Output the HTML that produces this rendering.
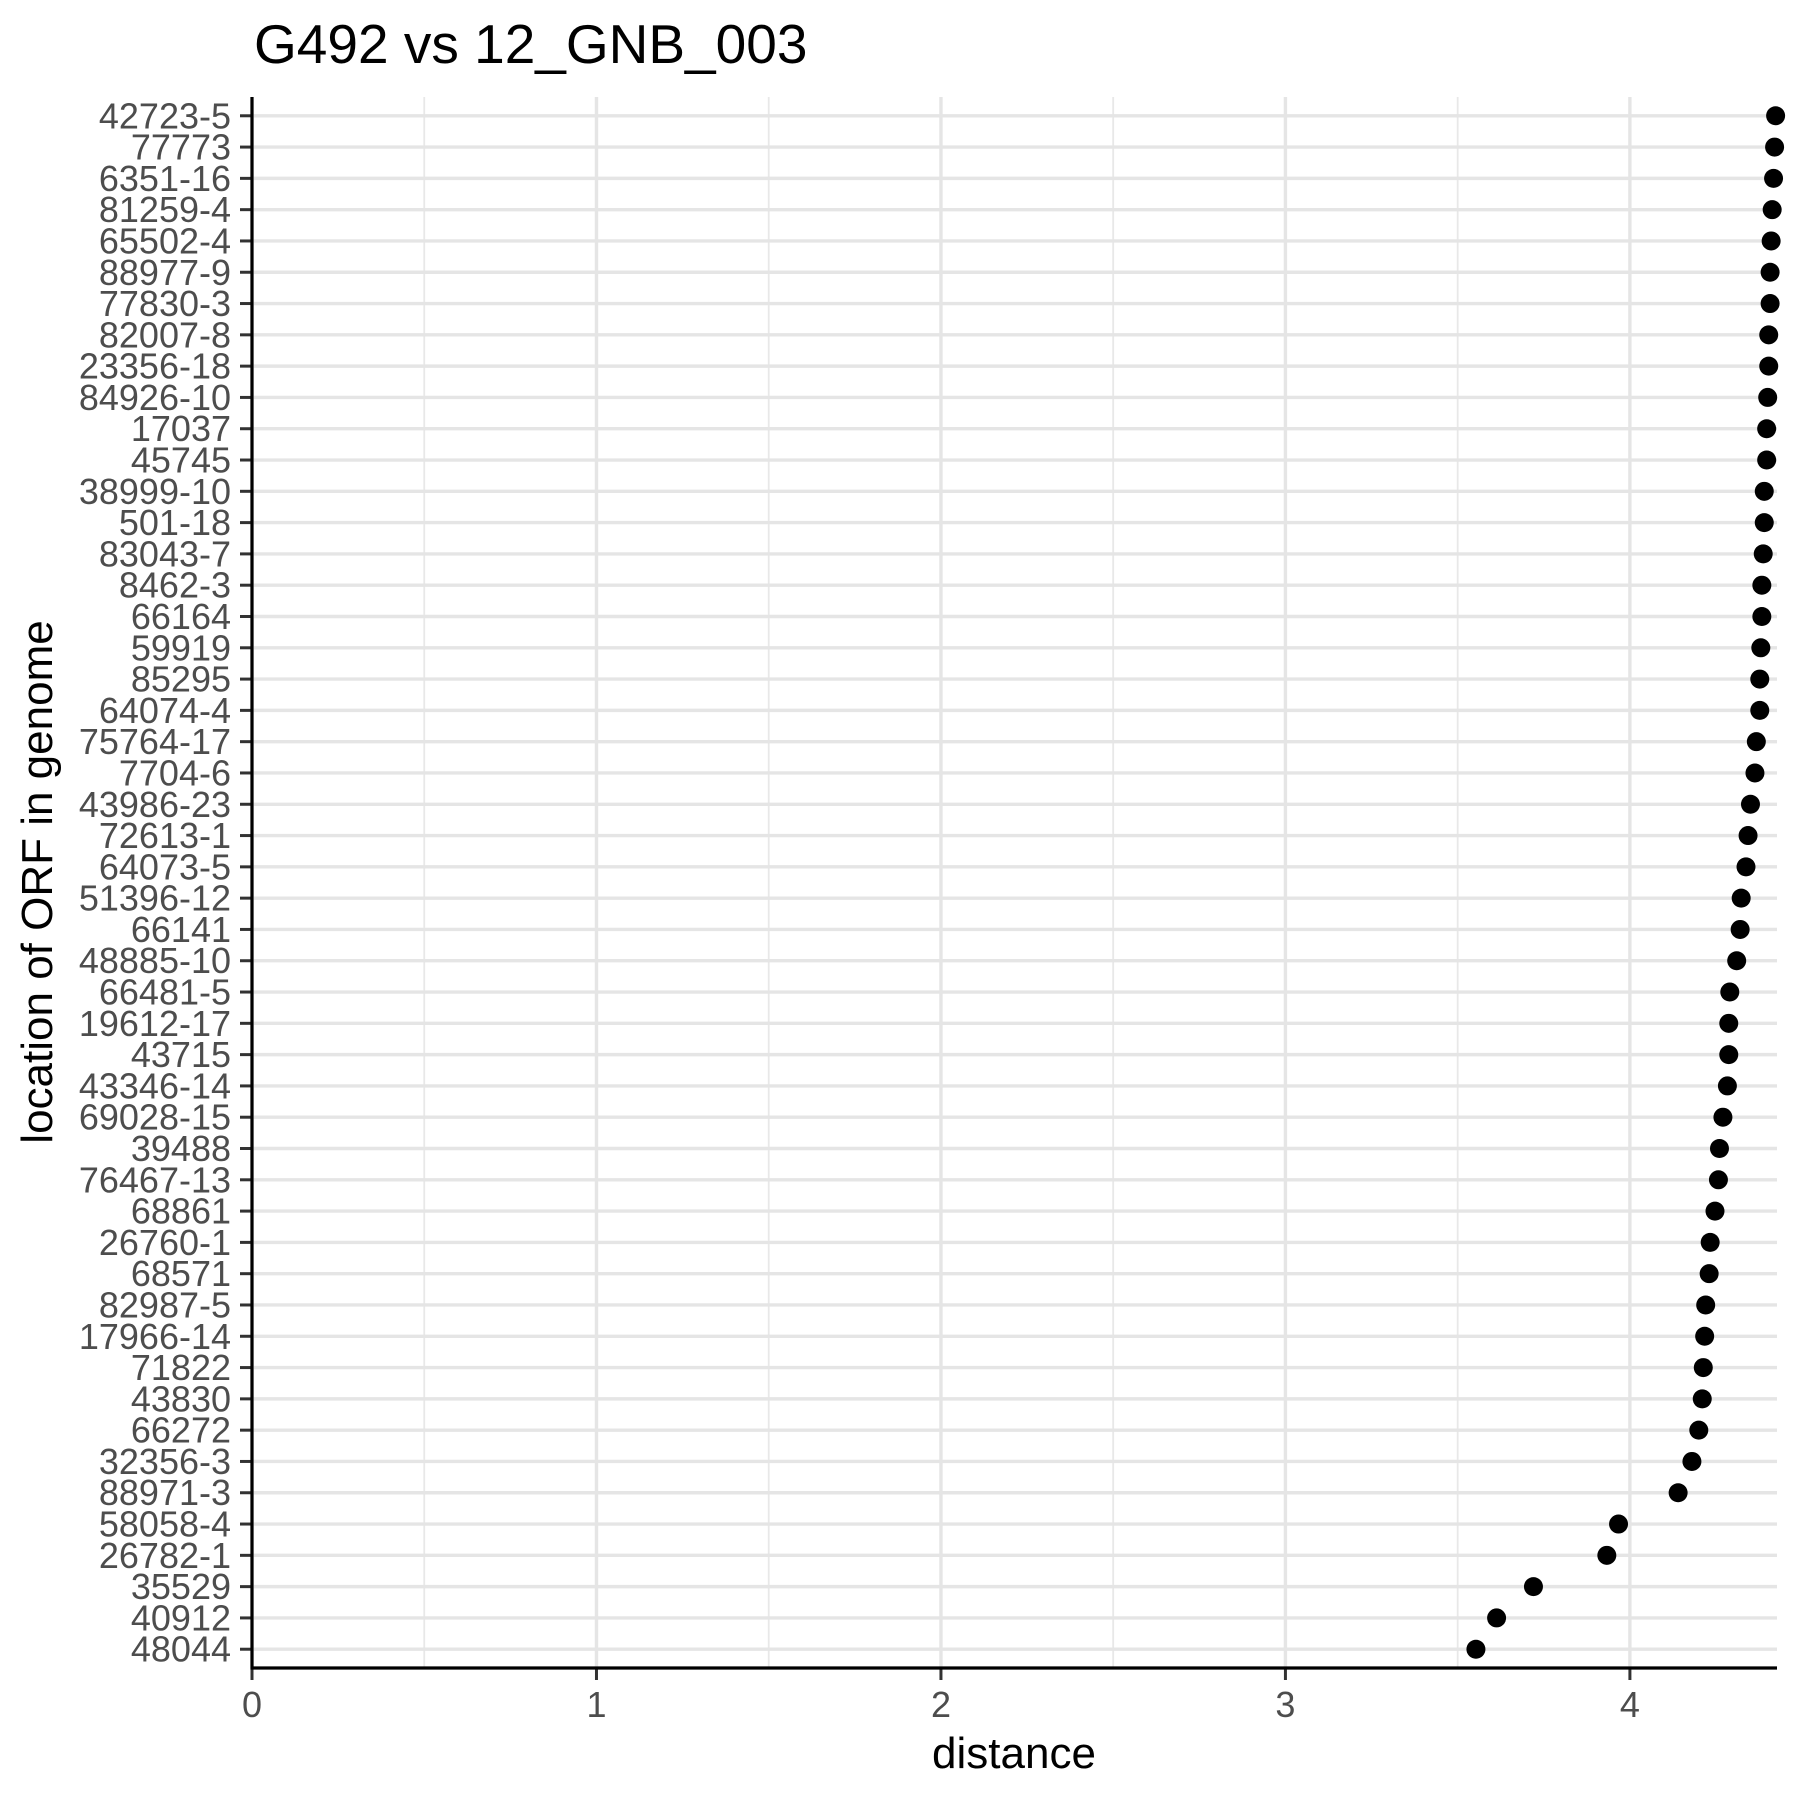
<!DOCTYPE html>
<html><head><meta charset="utf-8"><style>html,body{margin:0;padding:0;background:#fff}svg{display:block}text{font-family:"Liberation Sans",Arial,sans-serif}</style></head>
<body>
<svg id="chart" width="1800" height="1800" viewBox="0 0 1800 1800" xmlns="http://www.w3.org/2000/svg">
<text x="254" y="63" font-size="55" fill="#000">G492 vs 12_GNB_003</text>
<g id="grid"></g><g id="axes"></g><g id="points"></g>
<text x="1014" y="1768" font-size="44" text-anchor="middle" fill="#000">distance</text>
<text transform="translate(52,882) rotate(-90)" font-size="44" text-anchor="middle" fill="#000">location of ORF in genome</text>
</svg>
<script>
const categories = ["42723-5","77773","6351-16","81259-4","65502-4","88977-9","77830-3","82007-8","23356-18","84926-10","17037","45745","38999-10","501-18","83043-7","8462-3","66164","59919","85295","64074-4","75764-17","7704-6","43986-23","72613-1","64073-5","51396-12","66141","48885-10","66481-5","19612-17","43715","43346-14","69028-15","39488","76467-13","68861","26760-1","68571","82987-5","17966-14","71822","43830","66272","32356-3","88971-3","58058-4","26782-1","35529","40912","48044"];
const distances = [4.423,4.42,4.417,4.413,4.41,4.407,4.407,4.403,4.403,4.40,4.397,4.397,4.39,4.39,4.387,4.383,4.383,4.38,4.377,4.377,4.367,4.363,4.35,4.343,4.337,4.323,4.32,4.31,4.29,4.287,4.287,4.283,4.27,4.26,4.257,4.247,4.233,4.23,4.22,4.217,4.213,4.21,4.2,4.18,4.14,3.967,3.933,3.72,3.613,3.553];
const xTicks = [0,1,2,3,4];
const xMinor = [0.5,1.5,2.5,3.5];
const NS="http://www.w3.org/2000/svg";
const L=252,R=1777,T=97,B=1668;
const xMax=4.427;
const x=v=>L+(R-L)*v/xMax;
const step=(B-T)/(categories.length-1+1.2);
const y=i=>T+step*(0.6+i);
function mk(tag,attrs,parent){const e=document.createElementNS(NS,tag);for(const k in attrs)e.setAttribute(k,attrs[k]);parent.appendChild(e);return e;}
const grid=document.getElementById('grid'),axes=document.getElementById('axes'),pts=document.getElementById('points');
xMinor.forEach(v=>{const e=mk('line',{x1:x(v),x2:x(v),y1:T,y2:B,stroke:'#e8e8e8','stroke-width':1.8},grid);

});
xTicks.forEach(v=>{const e=mk('line',{x1:x(v),x2:x(v),y1:T,y2:B,stroke:'#e5e5e5','stroke-width':3.4},grid);

});
categories.forEach((c,i)=>{const e=mk('line',{x1:L,x2:R,y1:y(i),y2:y(i),stroke:'#e5e5e5','stroke-width':3.4},grid);


const t=mk('line',{x1:L-12,x2:L,y1:y(i),y2:y(i),stroke:'#333','stroke-width':3},axes);


const lb=mk('text',{x:L-21,y:y(i)+12.5,'font-size':36,'text-anchor':'end',fill:'#4d4d4d'},axes);lb.textContent=c;

});
xTicks.forEach(v=>{const t=mk('line',{x1:x(v),x2:x(v),y1:B,y2:B+12,stroke:'#333','stroke-width':3},axes);


const lb=mk('text',{x:x(v),y:1717,'font-size':36,'text-anchor':'middle',fill:'#4d4d4d'},axes);lb.textContent=v;

});
const xa=mk('line',{x1:L-1.5,x2:R,y1:B,y2:B,stroke:'#000','stroke-width':3.2},axes);


const ya=mk('line',{x1:L,x2:L,y1:T,y2:B+1.5,stroke:'#000','stroke-width':3.2},axes);


distances.forEach((d,i)=>{const p=mk('circle',{cx:x(d),cy:y(i),r:9.5,fill:'#000'},pts);

});
</script>
</body></html>
